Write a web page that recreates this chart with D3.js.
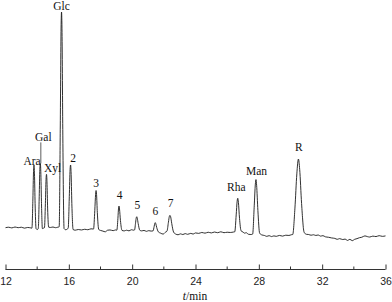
<!DOCTYPE html>
<html>
<head>
<meta charset="utf-8">
<script src="https://cdn.jsdelivr.net/npm/d3@7"></script>
<style>
  body { margin: 0; background: #fff; }
  svg { display: block; }
</style>
</head>
<body>
<svg id="chart" width="392" height="302"></svg>
<script>
// chromatogram trace: [time (min), detector response]
const trace = [
  [12.0,5.4],[12.2,5.6],[12.4,5.3],[12.6,5.7],[12.8,5.4],[13.0,5.6],[13.2,5.2],[13.4,5.5],[13.6,5.3],
  [13.67,5.2],[13.73,18],[13.77,30],[13.80,32.9],[13.83,29],[13.87,16],[13.93,5.0],
  [14.00,4.6],[14.07,5.0],[14.13,19],[14.17,31],[14.20,33.6],[14.23,30],[14.27,17],[14.33,5.0],
  [14.40,5.2],[14.46,5.4],[14.52,16],[14.56,26.5],[14.59,28.8],[14.62,25.5],[14.66,14],[14.73,5.6],
  [14.85,5.5],[15.0,5.7],[15.15,5.4],[15.3,5.6],
  [15.39,5.8],[15.46,50],[15.51,93],[15.54,100],[15.57,91],[15.62,46],[15.70,5.0],
  [15.80,4.5],[15.90,4.8],
  [15.96,5.2],[16.03,19],[16.08,31],[16.11,32.9],[16.14,30],[16.19,16],[16.27,4.6],
  [16.4,4.3],[16.6,4.6],[16.8,4.4],[17.0,4.7],[17.2,4.5],[17.4,4.9],
  [17.56,4.8],[17.64,13],[17.69,20],[17.72,21.7],[17.75,20],[17.80,12],[17.89,4.6],
  [18.0,4.2],[18.15,3.9],[18.3,3.6],[18.45,4.3],[18.6,4.4],[18.8,4.1],[18.95,4.4],
  [19.03,4.3],[19.1,9.5],[19.14,14],[19.17,14.9],[19.20,13.6],[19.26,8.5],[19.36,4.2],
  [19.5,4.0],[19.65,4.3],[19.8,4.0],[19.95,4.5],[20.1,4.3],
  [20.15,4.4],[20.22,7.8],[20.26,9.8],[20.29,10.2],[20.32,9.6],[20.38,7.2],[20.48,4.3],
  [20.6,4.0],[20.75,4.2],[20.9,3.8],[21.05,4.1],[21.2,3.9],
  [21.32,4.0],[21.39,6.0],[21.43,7.3],[21.46,7.6],[21.49,7.2],[21.55,5.5],[21.65,3.6],
  [21.8,3.0],[21.95,2.6],[22.1,3.4],
  [22.2,3.9],[22.29,7.8],[22.35,10.4],[22.39,10.8],[22.43,10.2],[22.50,7.2],[22.62,3.4],
  [22.75,2.6],[22.9,2.3],[23.05,2.7],[23.2,2.4],[23.35,2.8],[23.5,2.5],[23.7,2.9],[23.85,2.6],
  [24.0,3.1],[24.2,2.9],[24.4,3.3],[24.6,3.0],[24.8,3.4],[25.0,3.1],[25.2,3.5],[25.4,3.2],
  [25.6,3.6],[25.8,3.2],[26.0,3.4],[26.2,3.3],[26.4,3.5],
  [26.48,3.6],[26.57,11],[26.63,17],[26.67,18.3],[26.71,16.5],[26.78,9.5],[26.88,4.0],
  [27.0,3.5],[27.1,3.0],[27.2,3.2],[27.35,2.5],[27.5,2.4],
  [27.61,2.6],[27.71,15],[27.78,24.5],[27.82,26.5],[27.86,24],[27.94,13],[28.05,3.0],
  [28.2,2.2],[28.35,2.0],[28.5,1.6],[28.65,1.9],[28.8,1.5],[28.95,1.8],[29.1,1.6],[29.3,2.0],
  [29.5,1.7],[29.7,2.1],[29.9,2.0],[30.05,2.3],
  [30.14,2.4],[30.28,14],[30.40,29],[30.50,35.5],[30.58,31],[30.70,16],[30.86,3.4],
  [31.0,2.5],[31.15,2.4],[31.3,2.1],[31.45,2.3],[31.6,2.0],[31.75,2.2],[31.9,1.7],[32.05,1.9],
  [32.2,1.4],[32.4,1.2],[32.6,0.9],[32.8,0.7],[32.95,0.3],[33.1,0.6],[33.3,0.2],[33.45,0.4],
  [33.6,-0.2],[33.75,0.3],[33.9,-0.3],[34.05,0.3],[34.2,0.6],[34.35,1.0],[34.5,1.2],[34.7,1.8],
  [34.85,1.5],[35.0,1.3],[35.2,1.7],[35.4,1.5],[35.6,1.9],[35.8,1.6],[36.0,1.8]
];

// peak names, retention times and heights
const peakNames = ["Ara", "Gal", "Xyl", "Glc", "2", "3", "4", "5", "6", "7", "Rha", "Man", "R"];
const peakTimes = [13.80, 14.20, 14.59, 15.54, 16.11, 17.72, 19.17, 20.29, 21.46, 22.39, 26.67, 27.82, 30.50];
const peakHeights = [32.9, 33.6, 28.8, 100, 32.9, 21.7, 14.9, 10.2, 7.6, 10.8, 18.3, 26.5, 35.5];

const xTicks = [12, 16, 20, 24, 28, 32, 36];
const xMinorTicks = [14, 18, 22, 26, 30, 34];

// label nudges in pixels (dx, dy above the peak top), leader line for Gal
const labelNudge = [[-2, 0], [3, 22], [6, 2], [0, 2], [2.5, 3], [0, 3.5], [0.5, 7], [0.5, 7.7],
  [0, 7.2], [0.5, 8.3], [-1.5, 7.3], [0.5, 5], [0.5, 8.5]];

const svg = d3.select("#chart");
const x = d3.scaleLinear().domain([12, 36]).range([5.5, 385.5]);
const y = d3.scaleLinear().domain([0, 100]).range([240, 12]);
const axisY = 269.5;

// axe
const axe = svg.append("g")
  .attr("transform", `translate(0,${axisY})`)
  .call(d3.axisBottom(x).tickValues(xTicks).tickSize(-5).tickPadding(8).tickFormat(d3.format("d")));
axe.select(".domain").attr("d", `M${x(12)},0H${x(36)}`).attr("stroke", "#333");
axe.selectAll(".tick line").attr("stroke", "#333");
axe.selectAll(".tick text")
  .attr("fill", "#222")
  .style("font-family", "'Liberation Sans Narrow', 'Liberation Sans', Arial, sans-serif")
  .style("font-size", "10.5px");

svg.append("g")
  .selectAll("line")
  .data(xMinorTicks)
  .join("line")
  .attr("x1", (d) => x(d)).attr("x2", (d) => x(d))
  .attr("y1", axisY).attr("y2", axisY - 3)
  .attr("stroke", "#333");

// titre de l'axe : t/min
const titre = svg.append("text")
  .attr("x", 195)
  .attr("y", 300)
  .attr("text-anchor", "middle")
  .style("font-family", "'Liberation Serif', 'Times New Roman', serif")
  .style("font-size", "11.5px")
  .attr("fill", "#111");
titre.append("tspan").style("font-style", "italic").text("t");
titre.append("tspan").text("/min");

// trace
const line = d3.line()
  .x((d) => x(d[0]))
  .y((d) => y(d[1]))
  .curve(d3.curveMonotoneX);

svg.append("path")
  .datum(trace)
  .attr("d", line)
  .attr("fill", "none")
  .attr("stroke", "#1a1a1a")
  .attr("stroke-width", 0.9)
  .attr("stroke-linejoin", "round");

// étiquettes des pics
peakNames.forEach((name, i) => {
  const px = x(peakTimes[i]);
  const py = y(peakHeights[i]);
  const [dx, dy] = labelNudge[i];
  svg.append("text")
    .attr("x", px + dx)
    .attr("y", py - dy)
    .attr("text-anchor", "middle")
    .style("font-family", "'Liberation Serif', 'Times New Roman', serif")
    .style("font-size", "11.5px")
    .attr("fill", "#111")
    .text(name);
  if (name === "Gal") {
    svg.append("line")
      .attr("x1", px + 0.5).attr("x2", px + 0.5)
      .attr("y1", py - dy + 1).attr("y2", py)
      .attr("stroke", "#333")
      .attr("stroke-width", 0.8);
  }
});
</script>
</body>
</html>
